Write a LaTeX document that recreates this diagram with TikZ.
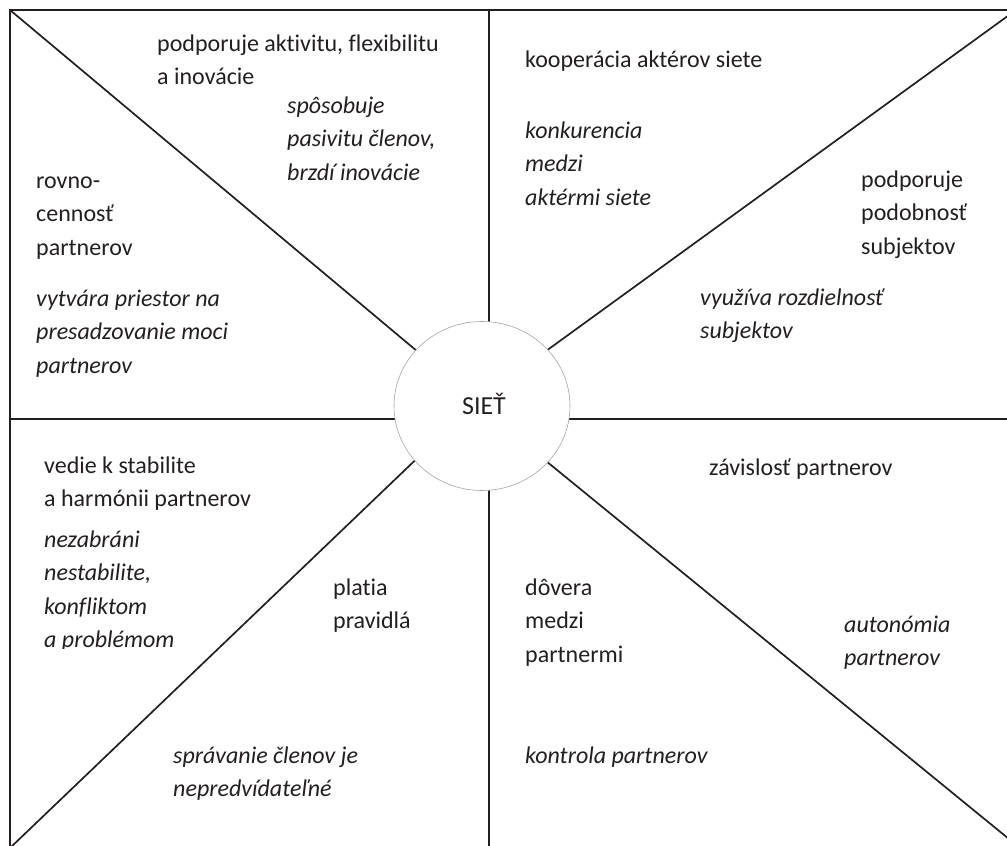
\documentclass[tikz,border=0pt]{standalone}
\usepackage{fontspec}
\setmainfont[Ligatures={NoCommon,NoRare,NoContextual}]{Carlito}
\usetikzlibrary{shapes.geometric}
\definecolor{ink}{RGB}{35,31,32}
\definecolor{ringgray}{RGB}{165,165,165}
\newcommand\mlines[1]{\vtop{\halign{##\hfil\cr#1\crcr}}}
\begin{document}
\begin{tikzpicture}[x=1pt,y=-1pt,
  txt/.style={anchor=base west, inner sep=0pt, text=ink, font=\fontsize{24}{33.5}\selectfont},
  itxt/.style={anchor=base west, inner sep=0pt, text=ink, font=\fontsize{24}{33.5}\selectfont\itshape},
  frame/.style={draw=ink, line width=2.2pt},
  divider/.style={draw=ink, line width=2.6pt},
  diag/.style={draw=ink, line width=1.7pt},
  hub/.style={ellipse, draw=ringgray, line width=0.6pt, fill=white, minimum width=176pt, minimum height=169pt, inner sep=0pt, text=ink, font=\fontsize{26}{30}\selectfont}]
\useasboundingbox (0,0) rectangle (1007,846);
% frame corners
\coordinate (ctl) at (10,10);
\coordinate (ctr) at (1016,10);
\coordinate (cbl) at (10,848);
\coordinate (cbr) at (1020,848);
\draw[frame] (ctl) rectangle (1016,848);
% dividers
\coordinate (vt) at (489,10);
\coordinate (vb) at (489,848);
\coordinate (hl) at (10,419);
\coordinate (hr) at (1016,419);
\draw[divider] (vt) -- (vb);
\draw[divider] (hl) -- (hr);
% diagonals
\coordinate (itl) at (430,362);
\coordinate (itr) at (535,359);
\coordinate (ibl) at (430,446);
\coordinate (ibr) at (535,452);
\draw[diag] (ctl) -- (itl);
\draw[diag] (ctr) -- (itr);
\draw[diag] (cbl) -- (ibl);
\draw[diag] (cbr) -- (ibr);
% hub
\node[hub] (siet) at (482,406) {\raisebox{3.5pt}{\hspace{4pt}SIEŤ}};
% top-left
\node[txt] (t1) at (157,51) {\mlines{podporuje aktivitu, flexibilitu\cr a inovácie}};
\node[itxt] (t2) at (287,113) {\mlines{spôsobuje\cr pasivitu členov,\cr brzdí inovácie}};
\node[txt] (t3) at (36,188) {\mlines{rovno-\cr cennosť\cr partnerov}};
\node[itxt] (t4) at (36,306) {\mlines{vytvára priestor na\cr presadzovanie moci\cr partnerov}};
% top-right
\node[txt] (t5) at (525,67) {kooperácia aktérov siete};
\node[itxt] (t6) at (525,138) {\mlines{konkurencia\cr medzi\cr aktérmi siete}};
\node[txt] (t7) at (861,187) {\mlines{podporuje\cr podobnosť\cr subjektov}};
\node[itxt] (t8) at (700,305) {\mlines{využíva rozdielnosť\cr subjektov}};
% bottom-left
\node[txt] (t9) at (44,473) {\mlines{vedie k stabilite\cr a harmónii partnerov}};
\begin{scope}
\clip (20,520) rectangle (300,648.5);
\node[itxt] (t10) at (44,547) {\mlines{nezabráni\cr nestabilite,\cr konfliktom\cr a problémom}};
\end{scope}
\node[txt] (t11) at (333,595) {\mlines{platia\cr pravidlá}};
\node[itxt] (t12) at (173,763) {\mlines{správanie členov je\cr nepredvídateľné}};
% bottom-right
\node[txt] (t13) at (709,475) {závislosť partnerov};
\node[txt] (t14) at (525,595) {\mlines{dôvera\cr medzi\cr partnermi}};
\node[itxt] (t15) at (844,632) {\mlines{autonómia\cr partnerov}};
\node[itxt] (t16) at (525,763) {kontrola partnerov};
\end{tikzpicture}
\end{document}
